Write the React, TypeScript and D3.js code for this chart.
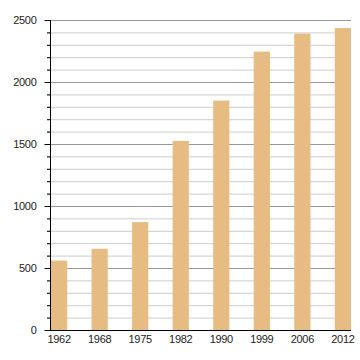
import * as d3 from "d3";
import React, {useEffect, useRef} from "react";

const years = ["1962", "1968", "1975", "1982", "1990", "1999", "2006", "2012"];
const values = [560, 655, 870, 1525, 1850, 2245, 2390, 2435];
const majorTicks = [0, 500, 1000, 1500, 2000, 2500];

const App = () => {
    const ref = useRef<SVGSVGElement>(null);

    useEffect(() => {
        const svg = d3.select(ref.current);
        svg.selectAll("*").remove();

        const left = 50, right = 351, top = 20, bottom = 330;

        const x = d3.scaleBand()
            .domain(years)
            .range([left + 1, right])
            .paddingInner(0.6)
            .paddingOuter(0);

        const y = d3.scaleLinear()
            .domain([0, 2500])
            .range([bottom, top]);

        // minor grid every 100
        const minor = d3.range(100, 2501, 100).filter(v => v % 500 !== 0);
        svg.append("g")
            .selectAll("line")
            .data(minor)
            .join("line")
            .attr("x1", left - 3)
            .attr("x2", right)
            .attr("y1", d => y(d) + 0.5)
            .attr("y2", d => y(d) + 0.5)
            .attr("stroke", "#cccccc")
            .attr("stroke-width", 1);

        // major grid
        svg.append("g")
            .selectAll("line")
            .data(majorTicks.filter(v => v > 0))
            .join("line")
            .attr("x1", left)
            .attr("x2", right)
            .attr("y1", d => y(d) + 0.5)
            .attr("y2", d => y(d) + 0.5)
            .attr("stroke", "#999999")
            .attr("stroke-width", 1);

        // bars
        svg.append("g")
            .selectAll("rect")
            .data(values)
            .join("rect")
            .attr("x", (d, i) => x(years[i]) as number)
            .attr("width", x.bandwidth())
            .attr("y", d => y(d))
            .attr("height", d => bottom - y(d))
            .attr("fill", "#e7bc83");

        // minor ticks on axis
        svg.append("g")
            .selectAll("line")
            .data(minor)
            .join("line")
            .attr("x1", left - 3)
            .attr("x2", left)
            .attr("y1", d => y(d) + 0.5)
            .attr("y2", d => y(d) + 0.5)
            .attr("stroke", "#000");

        // y axis
        const yAxis = svg.append("g")
            .attr("transform", `translate(${left + 0.5},0)`)
            .call(d3.axisLeft(y).tickValues(majorTicks).tickFormat(d3.format("d")).tickSize(6).tickPadding(8));
        yAxis.select(".domain").attr("stroke", "#000").attr("d", `M0,${top}V${bottom}`);
        yAxis.selectAll(".tick line").attr("stroke", "#000");
        yAxis.selectAll(".tick text")
            .attr("fill", "#222")
            .attr("font-size", 11)
            .attr("letter-spacing", -0.3)
            .attr("font-family", "Liberation Sans, Arial, sans-serif");

        // x axis
        const xAxis = svg.append("g")
            .attr("transform", `translate(0,${bottom + 0.5})`)
            .call(d3.axisBottom(x).tickSize(0).tickPadding(5));
        xAxis.select(".domain").attr("stroke", "#000").attr("d", `M${left},0H${right}`);
        xAxis.selectAll(".tick text")
            .attr("fill", "#222")
            .attr("font-size", 11)
            .attr("letter-spacing", -0.3)
            .attr("font-family", "Liberation Sans, Arial, sans-serif");
    }, []);

    return (
        <svg ref={ref} width={360} height={360}
             style={{position: "absolute", left: 0, top: 0, background: "#fff"}}/>
    );
};

export default App;
